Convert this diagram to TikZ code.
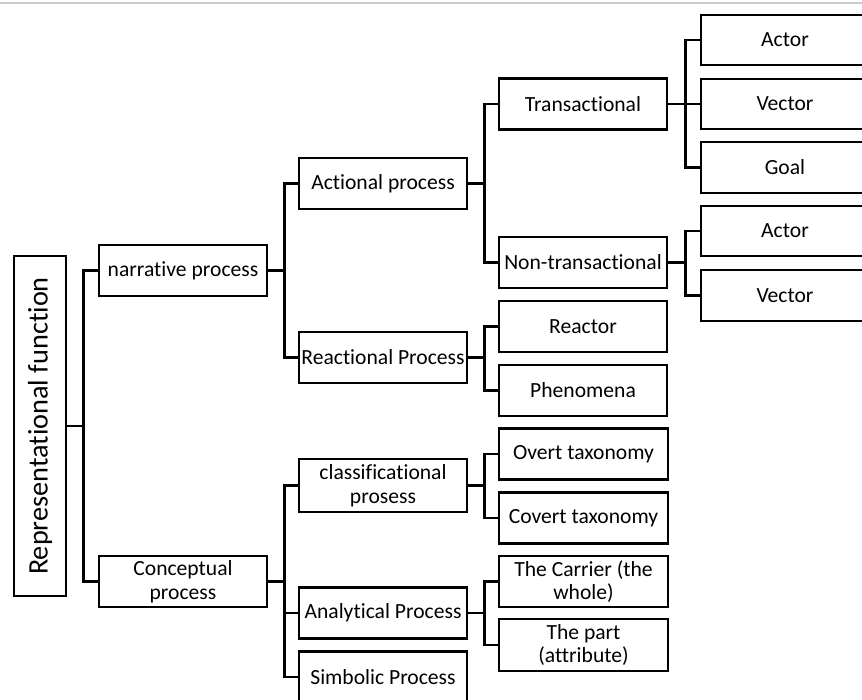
\documentclass[tikz,border=0pt]{standalone}
\usepackage{fontspec}
\setmainfont{Carlito}[Ligatures=NoCommon]
\begin{document}
\begin{tikzpicture}[x=1pt,y=-1pt,
  bx/.style={draw, line width=2.8pt, fill=white, minimum width=168pt, minimum height=51pt,
    inner sep=0pt, align=center, font=\fontsize{21.6}{23.5}\selectfont},
  link/.style={line width=2.8pt}]
\useasboundingbox (0,0) rectangle (862,699);
\clip (0,0) rectangle (862,699);
\fill[white] (0,0) rectangle (862,699);
\draw[black!20, line width=2pt] (0,3) -- (862,3);

% root
\node[bx, minimum width=52pt, minimum height=340pt] (root) at (40,426) {};
\node[rotate=90, font=\fontsize{28.3}{30}\selectfont] (roottext) at (root.center) {Representational function};

% level 1
\node[bx] (narr) at (183,270.5) {narrative process};
\node[bx] (conc) at (183,581.5) {Conceptual\\process};

% level 2
\node[bx] (act) at (383,183.5) {Actional process};
\node[bx] (reac) at (383,357.5) {Reactional Process};
\node[bx, minimum height=53pt] (clas) at (383,485.5) {classificational\\prosess};
\node[bx] (anal) at (383,613) {Analytical Process};
\node[bx] (simb) at (383,677) {Simbolic Process};

% level 3
\node[bx] (trans) at (583,104) {Transactional};
\node[bx] (nontr) at (583,262.5) {Non-transactional};
\node[bx] (reactor) at (583,326.5) {Reactor};
\node[bx] (phen) at (583,390.5) {Phenomena};
\node[bx, minimum width=169pt] (overt) at (583.5,454) {Overt taxonomy};
\node[bx, minimum width=169pt] (covert) at (583.5,518) {Covert taxonomy};
\node[bx, minimum width=169pt] (carrier) at (583.5,581.5) {The Carrier (the\\whole)};
\node[bx, minimum width=169pt, minimum height=52pt] (part) at (583.5,645) {The part\\(attribute)};

% level 4
\node[bx, minimum height=50pt] (actorA) at (785,40) {Actor};
\node[bx, minimum height=50pt] (vectorA) at (785,104) {Vector};
\node[bx] (goal) at (785,167.5) {Goal};
\node[bx, minimum height=50pt] (actorB) at (785,231) {Actor};
\node[bx] (vectorB) at (785,295.5) {Vector};

% connectors
\draw[link] (root.east) -- ++(16,0) coordinate (b0);
\draw[link] (b0) |- (narr.west);
\draw[link] (b0) |- (conc.west);

\draw[link] (narr.east) -- ++(16,0) coordinate (b1);
\draw[link] (b1) |- (act.west);
\draw[link] (b1) |- (reac.west);

\draw[link] (conc.east) -- ++(16,0) coordinate (b2);
\draw[link] (b2) |- (clas.west);
\draw[link] (b2) |- (anal.west);
\draw[link] (b2) |- (simb.west);

\draw[link] (act.east) -- ++(16,0) coordinate (b3);
\draw[link] (b3) |- (trans.west);
\draw[link] (b3) |- (nontr.west);

\draw[link] (reac.east) -- ++(16,0) coordinate (b4);
\draw[link] (b4) |- (reactor.west);
\draw[link] (b4) |- (phen.west);

\draw[link] (clas.east) -- ++(16,0) coordinate (b5);
\draw[link] (b5) |- (overt.west);
\draw[link] (b5) |- (covert.west);

\draw[link] (anal.east) -- ++(16,0) coordinate (b6);
\draw[link] (b6) |- (carrier.west);
\draw[link] (b6) |- (part.west);

\draw[link] (trans.east) -- ++(17,0) coordinate (b7);
\draw[link] (b7) |- (actorA.west);
\draw[link] (b7) |- (vectorA.west);
\draw[link] (b7) |- (goal.west);

\draw[link] (nontr.east) -- ++(17,0) coordinate (b8);
\draw[link] (b8) |- (actorB.west);
\draw[link] (b8) |- (vectorB.west);
\end{tikzpicture}
\end{document}
